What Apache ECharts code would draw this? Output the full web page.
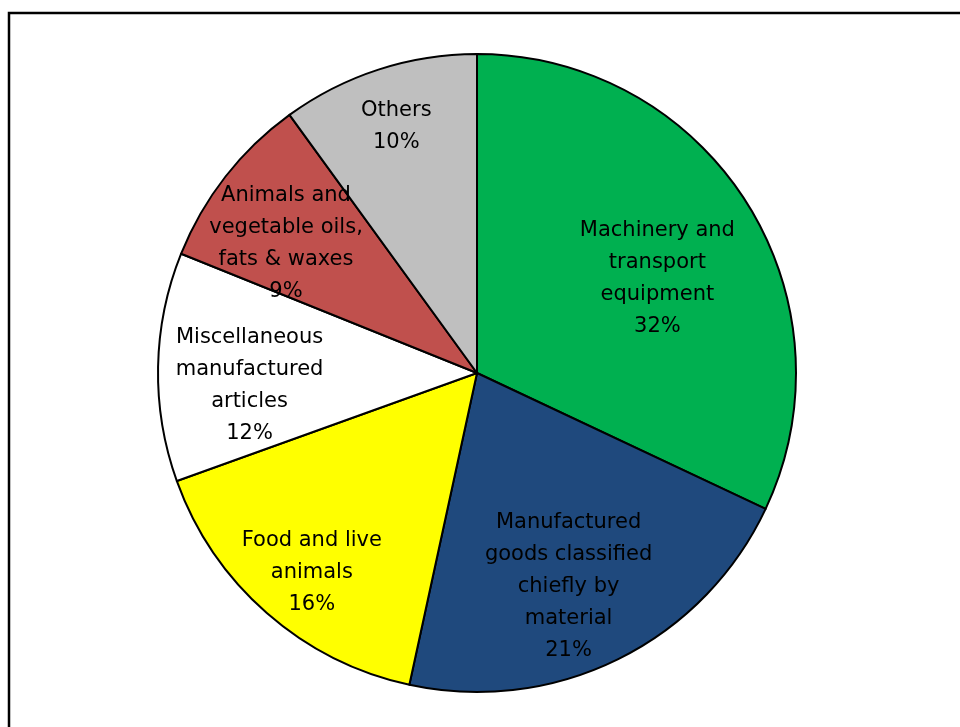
<!DOCTYPE html>
<html>
<head>
<meta charset="utf-8">
<script src="https://cdn.jsdelivr.net/npm/echarts@6/dist/echarts.min.js"></script>
<style>
  html, body { margin: 0; padding: 0; background: #fff; }
  #main { width: 960px; height: 727px; }
</style>
</head>
<body>
<div id="main"></div>
<script>
// categories, clockwise from 12 o'clock
const categories = [
  'Machinery and\ntransport\nequipment',
  'Manufactured\ngoods classified\nchiefly by\nmaterial',
  'Food and live\nanimals',
  'Miscellaneous\nmanufactured\narticles',
  'Animals and\nvegetable oils,\nfats & waxes',
  'Others'
]
// share in percent
const shares = [32.0, 21.4, 16.1, 11.6, 8.9, 10.0]
const colors = ['#00B050', '#1F497D', '#FFFF00', '#FFFFFF', '#C0504D', '#BFBFBF']

// label nudges so they sit like the original
const labelShift = [[-21, 33], [-14, 0], [-8, 20], [11, 17], [-3, 17], [-7, -20]]

const data = categories.map((name, i) => ({
  name: name,
  value: shares[i],
  itemStyle: { color: colors[i] }
}))

const center = [477, 373]
const R = 319

const chart = echarts.init(document.getElementById('main'))
chart.setOption({
  animation: false,
  graphic: [
    {
      type: 'rect',
      shape: { x: 9, y: 13, width: 1000, height: 800 },
      style: { fill: 'none', stroke: '#000', lineWidth: 2.5 },
      silent: true
    }
  ],
  series: [
    {
      type: 'pie',
      center: center,
      radius: [0, R],
      startAngle: 90,
      clockwise: true,
      silent: true,
      data: data,
      itemStyle: { borderColor: '#000', borderWidth: 2 },
      label: { show: false },
      labelLine: { show: false }
    },
    {
      // transparent ring that only carries the labels
      type: 'pie',
      center: center,
      radius: [152, R],
      startAngle: 90,
      clockwise: true,
      silent: true,
      data: data.map(d => ({ name: d.name, value: d.value })),
      itemStyle: { color: 'transparent', borderWidth: 0 },
      label: {
        show: true,
        position: 'inside',
        color: '#000',
        fontFamily: 'DejaVu Sans',
        fontSize: 21,
        lineHeight: 32,
        align: 'center',
        formatter: p => p.name + '\n' + Math.round(p.value) + '%'
      },
      labelLayout: p => ({ dx: labelShift[p.dataIndex][0], dy: labelShift[p.dataIndex][1] }),
      labelLine: { show: false }
    }
  ]
})
</script>
</body>
</html>
